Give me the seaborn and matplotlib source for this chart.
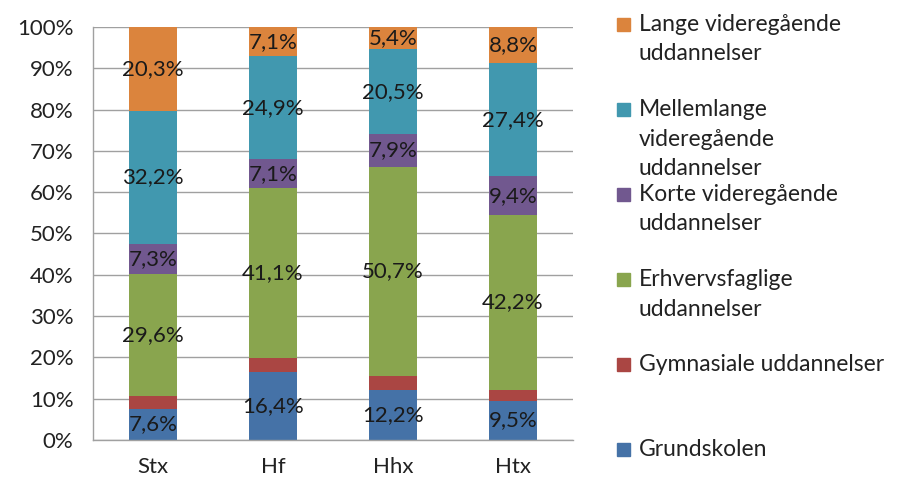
import matplotlib
matplotlib.use("Agg")
import matplotlib.pyplot as plt
import seaborn as sns
import numpy as np
import pandas as pd
from matplotlib.patches import Rectangle

categories = ["Stx", "Hf", "Hhx", "Htx"]
series_names = [
    "Grundskolen",
    "Gymnasiale uddannelser",
    "Erhvervsfaglige uddannelser",
    "Korte videregående uddannelser",
    "Mellemlange videregående uddannelser",
    "Lange videregående uddannelser",
]
legend_labels = [
    "Grundskolen",
    "Gymnasiale uddannelser",
    "Erhvervsfaglige\nuddannelser",
    "Korte videregående\nuddannelser",
    "Mellemlange\nvideregående\nuddannelser",
    "Lange videregående\nuddannelser",
]
grundskolen = [7.6, 16.4, 12.2, 9.5]
gymnasiale = [3.0, 3.4, 3.3, 2.7]
erhvervsfaglige = [29.6, 41.1, 50.7, 42.2]
korte = [7.3, 7.1, 7.9, 9.4]
mellemlange = [32.2, 24.9, 20.5, 27.4]
lange = [20.3, 7.1, 5.4, 8.8]
show_label = [True, False, True, True, True, True]
yticks = [0, 10, 20, 30, 40, 50, 60, 70, 80, 90, 100]

colors = ["#4572A7", "#AA4643", "#89A54E", "#71588F", "#4198AF", "#DB843D"]

series = [grundskolen, gymnasiale, erhvervsfaglige, korte, mellemlange, lange]
vals = np.array(series, dtype=float)
cum = np.cumsum(vals, axis=0)

sns.set_style("white")
plt.rcParams["font.family"] = ["Lato", "DejaVu Sans"]
FS = 16

fig = plt.figure(figsize=(8.99, 4.90), dpi=100)
ax = fig.add_axes([0.1034, 0.102, 0.534, 0.843])

# draw cumulative bars from top layer down so each overlays previous
for i in range(len(series) - 1, -1, -1):
    df = pd.DataFrame({"cat": categories, "val": cum[i]})
    sns.barplot(data=df, x="cat", y="val", color=colors[i], width=0.4,
                saturation=1, ax=ax, zorder=2, linewidth=0)

# data labels
for i in range(len(series)):
    if not show_label[i]:
        continue
    for j in range(len(categories)):
        center = cum[i][j] - vals[i][j] / 2
        txt = f"{vals[i][j]:.1f}".replace(".", ",") + "%"
        ax.text(j, center, txt, ha="center", va="center", fontsize=FS,
                color="#1a1a1a", zorder=3)

ax.set_xlim(-0.5, 3.5)
ax.set_ylim(0, 100)
ax.set_yticks(yticks)
ax.set_yticklabels([f"{t}%" for t in yticks], fontsize=FS, color="#222222")
ax.set_xlabel("")
ax.set_ylabel("")
ax.yaxis.grid(True, color="#a0a0a0", linewidth=1, zorder=0)
ax.set_axisbelow(True)
ax.set_xticks(range(len(categories)))
ax.set_xticklabels(categories, fontsize=FS, color="#222222")
ax.set_xticks([-0.5, 0.5, 1.5, 2.5, 3.5], minor=True)
ax.tick_params(axis="x", which="major", length=0, pad=12)
ax.tick_params(axis="x", which="minor", length=6, color="#a0a0a0", width=1, direction="out")
ax.tick_params(axis="y", length=6, color="#a0a0a0", width=1, direction="out", pad=8)
for s in ["top", "right"]:
    ax.spines[s].set_visible(False)
for s in ["left", "bottom"]:
    ax.spines[s].set_color("#a0a0a0")
    ax.spines[s].set_linewidth(1)

# legend (Excel style, top-aligned text)
sq_x = 617 / 899
txt_x = 639 / 899
sq_w = 13 / 899
sq_h = 13 / 490
order = list(range(len(series) - 1, -1, -1))
for k, i in enumerate(order):
    y_px = 24 + 85 * k
    yc = 1 - y_px / 490
    fig.patches.append(Rectangle((sq_x, yc - sq_h / 2), sq_w, sq_h,
                                 transform=fig.transFigure, color=colors[i]))
    fig.text(txt_x, yc + 10 / 490, legend_labels[i], ha="left", va="top",
             fontsize=16.5, color="#222222", linespacing=1.5)

fig.savefig("out.png", dpi=100)
